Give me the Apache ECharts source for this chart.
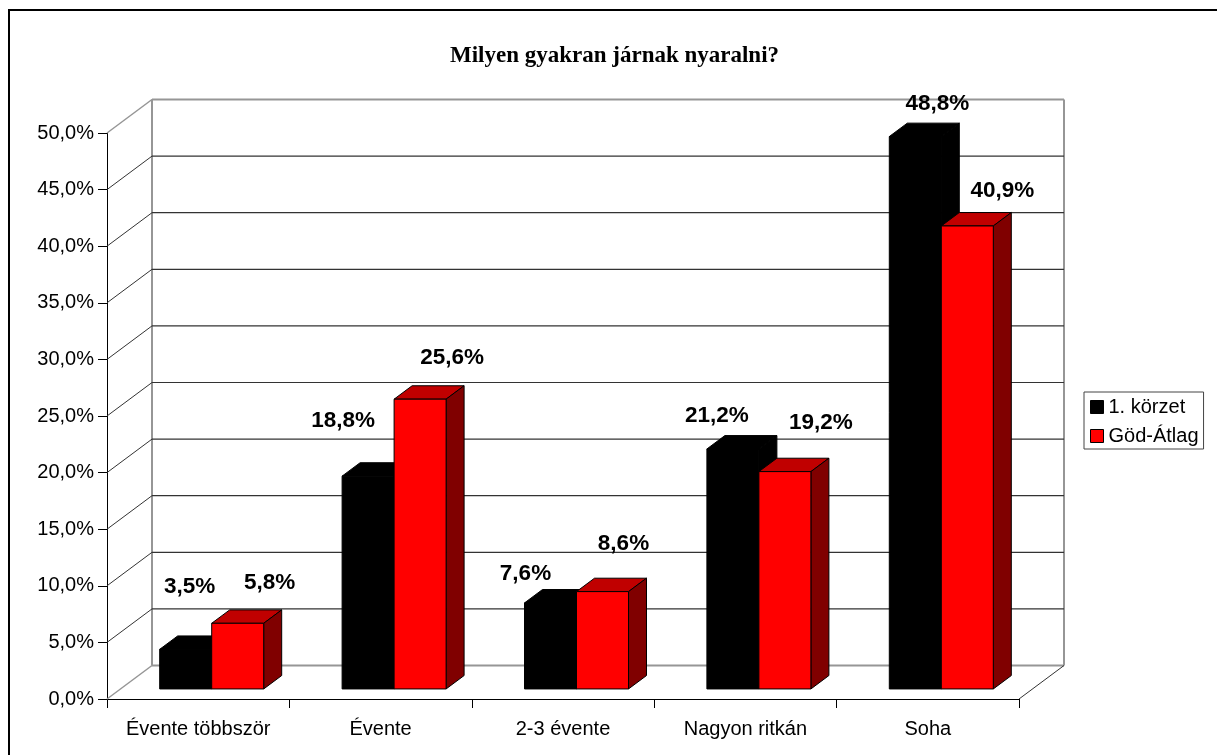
<!DOCTYPE html>
<html><head><meta charset="utf-8">
<style>html,body{margin:0;padding:0;background:#fff;overflow:hidden}#c{width:1217px;height:755px}</style>
<script src="https://cdn.jsdelivr.net/npm/echarts@6/dist/echarts.min.js"></script>
</head><body><div id="c"></div>
<script>
const categories = ['Évente többször','Évente','2-3 évente','Nagyon ritkán','Soha'];
const korzet = [3.5,18.8,7.6,21.2,48.8];
const godAtlag = [5.8,25.6,8.6,19.2,40.9];
const yTicks = [0,5,10,15,20,25,30,35,40,45,50];
const seriesNames = ['1. körzet','Göd-Átlag'];
const chartTitle = 'Milyen gyakran járnak nyaralni?';
// hand-placed data label nudges as in the reference [dx, dy] from bar top front centre
const korzetNudge = [[4,-63],[-25,-55],[-25,-29],[-16,-33],[22,-33]];
const godNudge = [[32,-40],[32,-41],[21,-48],[36,-49],[35,-35]];

const WALL_DX = 45, WALL_DY = -33.5;   // depth of the 3D box
const BAR_IN = 0.3, BAR_DEPTH = 0.4;   // bar placement in the depth, fractions of box
const BAR_FRAC = 52/182.4;
const fmt = v => v.toFixed(1).replace('.',',') + '%';

function wallItem(params, api){
  const v = api.value(0);
  const p = api.coord([0, v]);
  const size = api.size([1,0]);
  const left = p[0]-size[0]/2, right = left + size[0]*categories.length, y = p[1];
  const isEnd = v===yTicks[0] || v===yTicks[yTicks.length-1];
  const grey = '#969696', dark = '#333';
  const kids = [
    {type:'line',shape:{x1:left,y1:y,x2:left+WALL_DX,y2:y+WALL_DY},style:{stroke:isEnd?grey:dark,lineWidth:isEnd?1.5:1}},
    {type:'line',shape:{x1:left+WALL_DX,y1:y+WALL_DY,x2:right+WALL_DX,y2:y+WALL_DY},style:{stroke:isEnd?grey:dark,lineWidth:isEnd?2:1.2}}
  ];
  if(v===yTicks[0]){
    const t = api.coord([0, yTicks[yTicks.length-1]]);
    kids.push({type:'line',shape:{x1:left+WALL_DX,y1:y+WALL_DY,x2:left+WALL_DX,y2:t[1]+WALL_DY},style:{stroke:grey,lineWidth:2}});
    kids.push({type:'line',shape:{x1:right+WALL_DX,y1:y+WALL_DY,x2:right+WALL_DX,y2:t[1]+WALL_DY},style:{stroke:grey,lineWidth:2}});
    kids.push({type:'line',shape:{x1:right,y1:y,x2:right+WALL_DX,y2:y+WALL_DY},style:{stroke:dark,lineWidth:1}});
  }
  return {type:'group',children:kids};
}

function barItem(which, nudges, colors){
  return function(params, api){
    const c = api.value(0), v = api.value(1);
    const top = api.coord([c, v]), base = api.coord([c, 0]);
    const band = api.size([1,0])[0];
    const w = band*BAR_FRAC;
    const ox = WALL_DX*BAR_IN, oy = WALL_DY*BAR_IN;
    const dx = WALL_DX*BAR_DEPTH, dy = WALL_DY*BAR_DEPTH;
    const x0 = top[0]+ox + (which===0?-w:0), x1 = x0+w;
    const yT = top[1]+oy, yB = base[1]+oy;
    const st = fill => ({fill, stroke:'#000', lineWidth:1});
    const n = nudges[params.dataIndex];
    const cx = (x0+x1)/2;
    return {type:'group',children:[
      {type:'polygon',shape:{points:[[x0,yT],[x0+dx,yT+dy],[x1+dx,yT+dy],[x1,yT]]},style:st(colors[1])},
      {type:'polygon',shape:{points:[[x1,yT],[x1+dx,yT+dy],[x1+dx,yB+dy],[x1,yB]]},style:st(colors[2])},
      {type:'polygon',shape:{points:[[x0,yT],[x1,yT],[x1,yB],[x0,yB]]},style:st(colors[0])},
      {type:'text',z2:50,style:{text:fmt(v),x:cx+n[0],y:yT+n[1],align:'center',verticalAlign:'middle',
        font:'bold 22.5px "Liberation Sans"',fill:'#000'}}
    ]};
  };
}

const chart = echarts.init(document.getElementById('c'),null,{renderer:'canvas'});
chart.setOption({
  backgroundColor:'#fff',
  animation:false,
  title:{text:chartTitle,left:450,top:45,padding:0,textStyle:{fontFamily:'"Liberation Serif"',fontWeight:'bold',fontSize:23,color:'#000'}},
  grid:{left:107,top:133,width:912,height:566,containLabel:false},
  legend:{orient:'vertical',left:1084,top:392,padding:[5,5,3,6],itemWidth:13,itemHeight:13,itemGap:9,
    borderColor:'#444',borderWidth:1,selectedMode:false,icon:'rect',
    textStyle:{fontFamily:'"Liberation Sans"',fontSize:20,color:'#000'},
    data:seriesNames.map(n=>({name:n,itemStyle:{borderColor:'#000',borderWidth:1}}))},
  xAxis:{type:'category',data:categories,boundaryGap:true,
    axisLine:{lineStyle:{color:'#000',width:1}},axisTick:{show:true,alignWithLabel:false,length:9,lineStyle:{color:'#000'}},
    axisLabel:{margin:20,interval:0,fontFamily:'"Liberation Sans"',fontSize:20,color:'#000'},splitLine:{show:false}},
  yAxis:{type:'value',min:0,max:50,interval:5,
    axisLine:{show:true,lineStyle:{color:'#000',width:1}},axisTick:{show:true,length:9,lineStyle:{color:'#000'}},
    axisLabel:{margin:13,padding:[5,0,0,0],fontFamily:'"Liberation Sans"',fontSize:20,color:'#000',formatter:v=>fmt(v)},splitLine:{show:false}},
  series:[
    {type:'custom',name:'wall',silent:true,z:1,renderItem:wallItem,clip:false,encode:{y:0},data:yTicks.map(v=>[v])},
    {type:'custom',name:seriesNames[0],z:2,itemStyle:{color:'#000'},clip:false,encode:{x:0,y:1},
     renderItem:barItem(0,korzetNudge,['#000','#000','#000']),data:korzet.map((v,i)=>[i,v])},
    {type:'custom',name:seriesNames[1],z:3,itemStyle:{color:'#ff0000'},clip:false,encode:{x:0,y:1},
     renderItem:barItem(1,godNudge,['#ff0000','#c00000','#800000']),data:godAtlag.map((v,i)=>[i,v])},
    {type:'custom',name:'frame',silent:true,z:0,coordinateSystem:'none',data:[[0]],
     renderItem:(p,api)=>({type:'rect',shape:{x:9,y:10,width:1300,height:900},style:{fill:'none',stroke:'#000',lineWidth:2}})}
  ]
});
</script></body></html>
